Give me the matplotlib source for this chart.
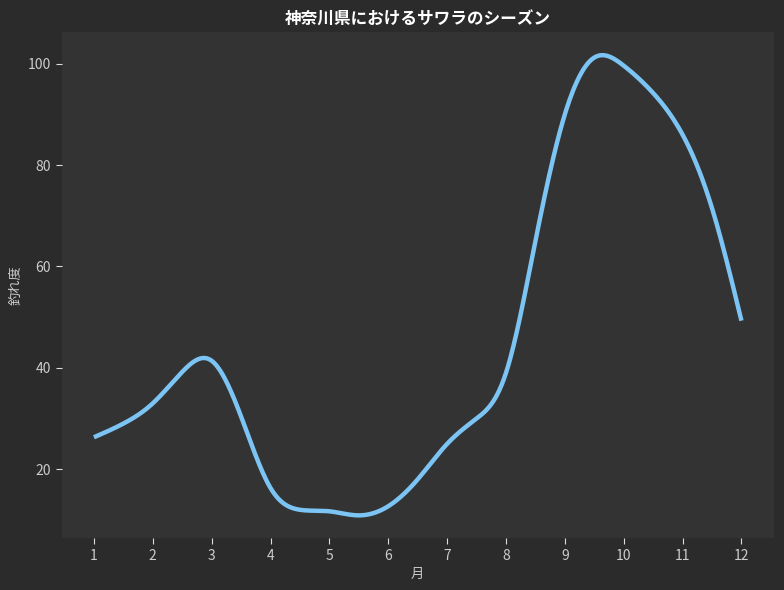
import numpy as np
import matplotlib
matplotlib.use("Agg")
import matplotlib.pyplot as plt

# values, half-month steps
months = [1, 1.5, 2, 2.5, 3, 3.5, 4, 4.5, 5, 5.5, 6, 6.5,
          7, 7.5, 8, 8.5, 9, 9.5, 10, 10.5, 11, 11.5, 12]
catch_index = [26.3, 29.0, 33.0, 39.2, 41.4, 30.4, 16.3, 12.0, 11.7, 10.9, 12.7, 18.0,
               25.0, 30.0, 39.0, 65.0, 90.0, 101.2, 99.6, 94.2, 86.0, 71.5, 49.3]
tick_months = list(range(1, 13))

title = "神奈川県におけるサワラのシーズン"
xlabel = "月"
ylabel = "釣れ度"


def natural_spline(x, y, xs):
    """Natural cubic spline through (x, y), evaluated at xs."""
    x = np.asarray(x, float)
    y = np.asarray(y, float)
    n = len(x)
    h = np.diff(x)
    A = np.zeros((n, n))
    b = np.zeros(n)
    A[0, 0] = A[-1, -1] = 1
    for i in range(1, n - 1):
        A[i, i - 1] = h[i - 1]
        A[i, i] = 2 * (h[i - 1] + h[i])
        A[i, i + 1] = h[i]
        b[i] = 3 * ((y[i + 1] - y[i]) / h[i] - (y[i] - y[i - 1]) / h[i - 1])
    c = np.linalg.solve(A, b)
    bb = (y[1:] - y[:-1]) / h - h * (2 * c[:-1] + c[1:]) / 3
    d = (c[1:] - c[:-1]) / (3 * h)
    idx = np.clip(np.searchsorted(x, xs) - 1, 0, n - 2)
    t = xs - x[idx]
    return y[idx] + bb[idx] * t + c[idx] * t ** 2 + d[idx] * t ** 3


plt.rcParams['font.family'] = ['Noto Sans CJK JP', 'DejaVu Sans']

fig = plt.figure(figsize=(7.84, 5.90), dpi=100)
fig.patch.set_facecolor('#2b2b2b')
ax = fig.add_axes([0.0785, 0.0875, 0.9085, 0.858])
ax.set_facecolor('#333333')

xs = np.linspace(months[0], months[-1], 600)
ax.plot(xs, natural_spline(months, catch_index, xs), color='#7cc4f4', linewidth=3.2,
        solid_capstyle='butt')

ax.set_xticks(tick_months)
ax.set_title(title, color='white', fontsize=12, fontweight='bold', pad=6)
ax.set_xlabel(xlabel, color='#cccccc', fontsize=9.5)
ax.set_ylabel(ylabel, color='#cccccc', fontsize=9.5)
ax.tick_params(colors='#dddddd', labelcolor='#cccccc', labelsize=10, length=4)
for side in ax.spines.values():
    side.set_visible(False)

fig.savefig('out.png', dpi=100, facecolor=fig.get_facecolor())
